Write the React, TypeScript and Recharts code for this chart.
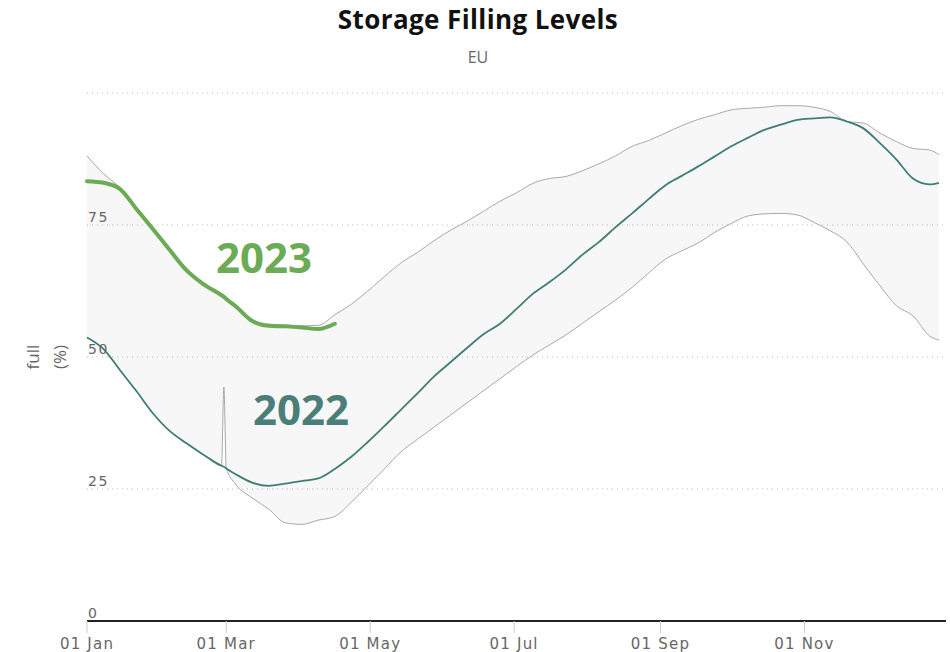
import {
  Area,
  CartesianGrid,
  ComposedChart,
  Line,
  ReferenceDot,
  XAxis,
  YAxis,
} from "recharts";

// day of year (2022 calendar)
const days = [
  0, 7, 14, 21, 28, 35, 42, 49, 57, 58, 59, 63, 70, 77, 84, 91, 98, 105, 112,
  119, 126, 133, 140, 147, 154, 161, 168, 175, 182, 189, 196, 203, 210, 217,
  224, 231, 238, 245, 252, 259, 266, 273, 280, 287, 294, 301, 308, 315, 322,
  329, 336, 343, 350, 357, 361,
];

const fill2022 = [
  53.7, 51.5, 47.5, 43.5, 39.3, 36.0, 33.7, 31.6, 29.4, 29.2, 28.9, 27.8, 26.2,
  25.6, 26.0, 26.5, 27.0, 28.8, 31.1, 33.9, 36.9, 40.0, 43.1, 46.3, 49.0, 51.7,
  54.3, 56.3, 59.1, 62.0, 64.2, 66.6, 69.4, 71.8, 74.6, 77.2, 79.9, 82.5, 84.3,
  86.1, 88.0, 89.9, 91.5, 93.0, 94.0, 94.9, 95.2, 95.4, 94.6, 93.3, 90.5, 87.4,
  83.8, 82.7, 83.0,
];

// 2023 only runs to mid April
const fill2023 = [
  83.3, 83.0, 81.8, 78.0, 74.2, 70.3, 66.5, 63.9, 61.7, 61.4, 61.0, 59.6, 56.8,
  55.9, 55.8, 55.6, 55.3, 56.3,
];

const rangeMax = [
  88.1, 84.7, 82.1, 78.3, 74.5, 70.6, 66.8, 64.2, 62.0, 61.7, 61.3, 59.9, 57.1,
  56.2, 56.1, 55.9, 56.0, 58.0, 60.0, 62.5, 65.2, 67.8, 69.8, 72.0, 74.0, 75.7,
  77.6, 79.5, 81.1, 82.9, 83.8, 84.2, 85.3, 86.6, 88.1, 89.9, 91.0, 92.4, 93.8,
  95.0, 95.9, 96.8, 97.1, 97.3, 97.6, 97.6, 97.3, 96.5, 94.6, 94.3, 92.4, 90.8,
  89.5, 89.2, 88.3,
];

const rangeMin = [
  53.7, 51.5, 47.5, 43.5, 39.3, 36.0, 33.7, 31.6, 29.4, 44.3, 29.0, 25.9, 23.3,
  21.2, 18.6, 18.3, 19.1, 19.8, 22.5, 25.6, 28.8, 32.0, 34.4, 36.7, 39.0, 41.3,
  43.6, 45.9, 48.2, 50.4, 52.3, 54.2, 56.4, 58.6, 60.8, 63.2, 65.9, 68.5, 70.1,
  71.6, 73.6, 75.3, 76.7, 77.1, 77.2, 76.9, 75.5, 73.9, 71.8, 67.6, 63.5, 59.7,
  57.8, 54.0, 53.2,
];

const tickDays = [0, 59, 120, 181, 243, 304];
const tickLabels = ["01 Jan", "01 Mar", "01 May", "01 Jul", "01 Sep", "01 Nov"];
const yTicks = [0, 25, 50, 75, 100];

const data = days.map((day, i) => ({
  day,
  y2022: fill2022[i],
  y2023: i < fill2023.length ? fill2023[i] : null,
  min: rangeMin[i],
  max: rangeMax[i],
  range: [rangeMin[i], rangeMax[i]],
}));

const FONT = "'Open Sans', sans-serif";
const TICK_FONT = "'DejaVu Sans', sans-serif";
const GREY = "#666";

function YTick({ y, payload }: any) {
  if (payload.value === 100) return null;
  return (
    <text
      x={88}
      y={y - 3}
      fill={GREY}
      fontSize={14}
      fontFamily={TICK_FONT}
      letterSpacing={1.5}
      textAnchor="start"
    >
      {payload.value}
    </text>
  );
}

export default function App() {
  return (
    <div
      style={{
        position: "fixed",
        left: 0,
        top: 0,
        width: 950,
        height: 652,
        background: "#fff",
        fontFamily: FONT,
      }}
    >
      <div
        style={{
          position: "absolute",
          left: 0,
          width: 956,
          top: 6,
          lineHeight: "26px",
          textAlign: "center",
          fontSize: 26,
          fontWeight: 700,
          letterSpacing: 0.4,
          color: "#111",
        }}
      >
        Storage Filling Levels
      </div>
      <div
        style={{
          position: "absolute",
          left: 0,
          width: 956,
          top: 46,
          textAlign: "center",
          fontSize: 16,
          color: GREY,
        }}
      >
        EU
      </div>
      <div
        style={{
          position: "absolute",
          left: 6,
          top: 330,
          width: 80,
          lineHeight: "27px",
          textAlign: "center",
          fontSize: 17,
          color: GREY,
          transform: "rotate(-90deg)",
        }}
      >
        full
        <br />
        (%)
      </div>
      <ComposedChart
        width={950}
        height={652}
        data={data}
        margin={{ top: 93, right: 4, bottom: 0, left: 86 }}
      >
        <CartesianGrid
          vertical={false}
          stroke="#bbb"
          strokeDasharray="1 4"
        />
        <XAxis
          dataKey="day"
          type="number"
          domain={[0, 364]}
          ticks={tickDays}
          tickFormatter={(v: number) => tickLabels[tickDays.indexOf(v)]}
          height={31}
          axisLine={{ stroke: "#222", strokeWidth: 2 }}
          tickLine={{ stroke: "#ccc" }}
          tickSize={12}
          tickMargin={5}
          tick={{
            fill: GREY,
            fontSize: 15,
            fontFamily: TICK_FONT,
            letterSpacing: 1.2,
          }}
        />
        <YAxis
          type="number"
          domain={[0, 100]}
          ticks={yTicks}
          width={1}
          axisLine={false}
          tickLine={false}
          tick={(props: any) => <YTick {...props} />}
        />
        <Area
          dataKey="range"
          type="monotone"
          stroke="none"
          fill="#000"
          fillOpacity={0.03}
          isAnimationActive={false}
        />
        <Line
          dataKey="min"
          type="monotone"
          stroke="#a8a8a8"
          strokeWidth={1}
          dot={false}
          isAnimationActive={false}
        />
        <Line
          dataKey="max"
          type="monotone"
          stroke="#a8a8a8"
          strokeWidth={1}
          dot={false}
          isAnimationActive={false}
        />
        <Line
          dataKey="y2022"
          type="monotone"
          stroke="#3e7e76"
          strokeWidth={1.8}
          dot={false}
          isAnimationActive={false}
        />
        <Line
          dataKey="y2023"
          type="monotone"
          stroke="#6cab56"
          strokeWidth={4}
          strokeLinecap="round"
          dot={false}
          isAnimationActive={false}
        />
        <ReferenceDot
          x={75}
          y={68.8}
          r={0}
          fill="none"
          stroke="none"
          label={{
            value: "2023",
            position: "center",
            fill: "#6cab56",
            fontSize: 42,
            fontWeight: 700,
            fontFamily: FONT,
          }}
        />
        <ReferenceDot
          x={90.7}
          y={40}
          r={0}
          fill="none"
          stroke="none"
          label={{
            value: "2022",
            position: "center",
            fill: "#4a7e77",
            fontSize: 42,
            fontWeight: 700,
            fontFamily: FONT,
          }}
        />
      </ComposedChart>
    </div>
  );
}
